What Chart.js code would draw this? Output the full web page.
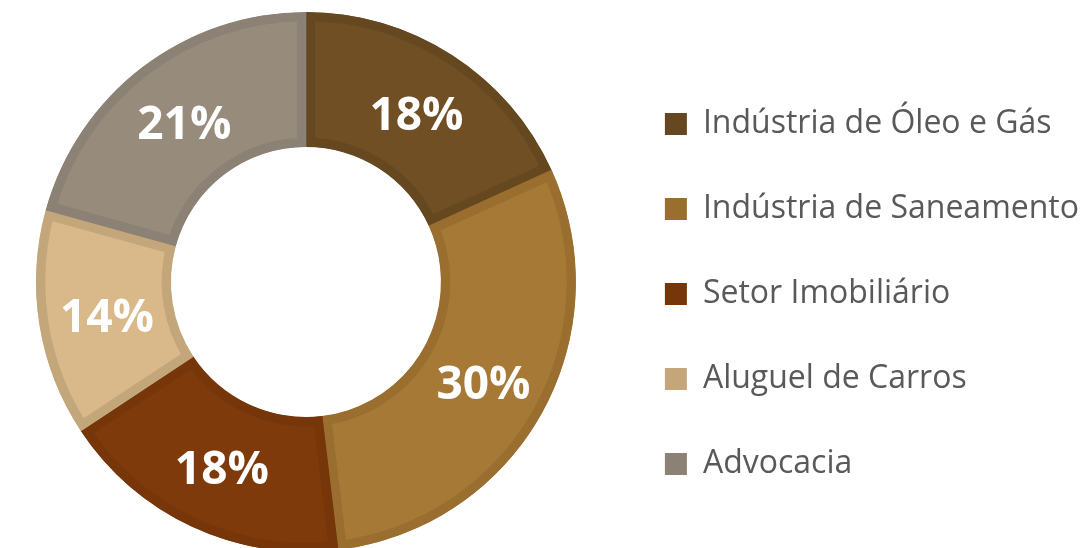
<!DOCTYPE html>
<html>
<head>
<meta charset="utf-8">
<script src="https://cdn.jsdelivr.net/npm/chart.js@4/dist/chart.umd.min.js"></script>
<style>
  html, body { margin: 0; padding: 0; background: #fff; overflow: hidden; }
  #wrap { position: absolute; left: 0; top: 0; width: 1087px; height: 552px; }
</style>
</head>
<body>
<div id="wrap"><canvas id="sector_chart"></canvas></div>
<script>
// data
categories = ['Indústria de Óleo e Gás', 'Indústria de Saneamento', 'Setor Imobiliário', 'Aluguel de Carros', 'Advocacia'];
shares = [18.2, 29.9, 17.6, 13.6, 20.7];

fill_colors = ['#704F24', '#A67A36', '#7E3A0B', '#D9B88A', '#978B7B'];
edge_colors = ['#664820', '#9A6E2E', '#763609', '#C4A67B', '#8B8174'];

// draws the white percentage in the middle of each slice
pct_labels = {
    id: 'pct_labels',
    afterDatasetsDraw(chart) {
        const ctx = chart.ctx;
        const meta = chart.getDatasetMeta(0);
        const data = chart.data.datasets[0].data;
        const total = data.reduce((a, b) => a + b, 0);
        ctx.save();
        ctx.fillStyle = '#ffffff';
        ctx.font = 'bold 46px "Open Sans"';
        ctx.textAlign = 'center';
        ctx.textBaseline = 'middle';
        meta.data.forEach((arc, i) => {
            const pos = arc.tooltipPosition();
            ctx.fillText(Math.round(data[i] / total * 100) + '%', pos.x + 1, pos.y + 5);
        });
        ctx.restore();
    }
};

var chart = new Chart(document.getElementById('sector_chart'), {
    type: 'doughnut',
    data: {
        labels: categories,
        datasets: [{
            data: shares,
            backgroundColor: fill_colors,
            borderColor: edge_colors,
            borderWidth: 9,
            borderAlign: 'inner'
        }]
    },
    options: {
        responsive: true,
        maintainAspectRatio: false,
        animation: false,
        cutout: '50%',
        layout: { padding: { top: 12, left: -11, right: -2, bottom: 0 } },
        plugins: {
            tooltip: { enabled: false },
            legend: {
                position: 'right',
                align: 'center',
                // empty title only pushes the items down a little
                title: { display: true, text: ' ', font: { size: 10, lineHeight: 1 }, padding: { top: 7, bottom: 7 } },
                labels: {
                    color: '#595959',
                    font: { family: 'Open Sans', size: 32 },
                    boxWidth: 22,
                    boxHeight: 22,
                    padding: 53,
                    generateLabels: (c) => c.data.labels.map((lab, i) => ({
                        text: lab,
                        fillStyle: edge_colors[i],
                        strokeStyle: edge_colors[i],
                        lineWidth: 0,
                        fontColor: '#595959',
                        index: i
                    }))
                }
            }
        }
    },
    plugins: [pct_labels]
});
</script>
</body>
</html>
